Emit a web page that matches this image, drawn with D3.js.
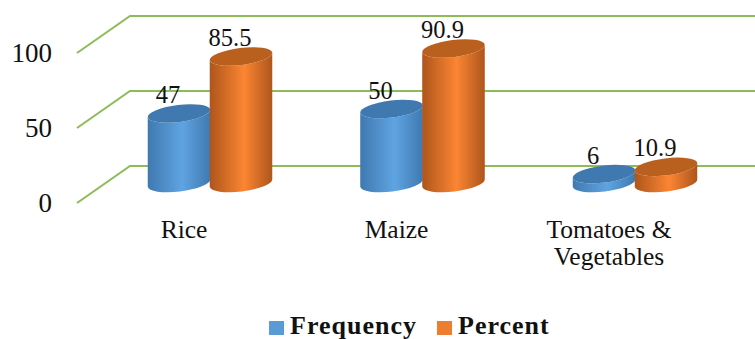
<!DOCTYPE html>
<html>
<head>
<meta charset="utf-8">
<script src="https://cdn.jsdelivr.net/npm/d3@7"></script>
<style>
  html, body { margin: 0; padding: 0; background: #fff; }
  svg { display: block; }
  text { font-family: "Liberation Serif", serif; fill: #111; }
</style>
</head>
<body>
<svg id="chart" viewBox="0 0 755 339" width="755" height="339"></svg>
<script>
const categories = ["Rice", "Maize", "Tomatoes & Vegetables"];
const category_lines = [["Rice"], ["Maize"], ["Tomatoes &", "Vegetables"]];
const series_names = ["Frequency", "Percent"];
const frequency = [47, 50, 6];
const percent = [85.5, 90.9, 10.9];
const percent_labels = ["85.5", "90.9", "10.9"];
const tick_values = [0, 50, 100];

const svg = d3.select("#chart");
const width = 755;

// front edge of the floor and the back wall share the same value range
const y_front = d3.scaleLinear().domain([0, 100]).range([203, 53]);
const y_back = d3.scaleLinear().domain([0, 100]).range([166, 16]);
const y_bar = d3.scaleLinear().domain([0, 100]).range([183, 35]);

const x_group = d3.scalePoint().domain(categories).range([210, 635]);
const x_series = d3.scaleBand().domain(series_names).range([-62, 62]);

const colors = {
  Frequency: { edge: "#3f79b0", mid: "#5fa4e2", top: "#3f79af", key: "#5b9bd5" },
  Percent: { edge: "#ad561c", mid: "#fc8532", top: "#b9601f", key: "#ed7d31" }
};

const defs = svg.append("defs");
series_names.forEach(name => {
  const grad = defs.append("linearGradient").attr("id", "grad" + name);
  grad.append("stop").attr("offset", "0%").attr("stop-color", colors[name].edge);
  grad.append("stop").attr("offset", "55%").attr("stop-color", colors[name].mid);
  grad.append("stop").attr("offset", "100%").attr("stop-color", colors[name].edge);
});

// gridlines: short diagonal on the side wall, then along the back wall
svg.append("g")
  .selectAll("path")
  .data(tick_values)
  .enter()
  .append("path")
  .attr("d", d => `M77,${y_front(d)}L130,${y_back(d)}L${width},${y_back(d)}`)
  .attr("fill", "none")
  .attr("stroke", "#8cbb58")
  .attr("stroke-width", 2);

const y_axis = svg.append("g")
  .attr("transform", "translate(52,0)")
  .call(d3.axisLeft(y_front).tickValues(tick_values).tickSize(0).tickPadding(0));
y_axis.select(".domain").remove();
y_axis.selectAll("text")
  .attr("font-family", "Liberation Serif")
  .attr("font-size", 27)
  .style("fill", "#111");

const rx = 31.5, ry = 8.5, tilt = 7 * Math.PI / 180;
const dx = rx * Math.cos(tilt), dy = rx * Math.sin(tilt);

function cylinder(cx, top, base) {
  return `M${cx - dx},${top + dy}L${cx - dx},${base + dy}` +
    `A${rx},${ry} -7 0 0 ${cx + dx},${base - dy}` +
    `L${cx + dx},${top - dy}` +
    `A${rx},${ry} -7 0 1 ${cx - dx},${top + dy}Z`;
}

const bars = categories.flatMap((c, i) => [
  { category: c, name: "Frequency", value: frequency[i], label: String(frequency[i]) },
  { category: c, name: "Percent", value: percent[i], label: percent_labels[i] }
]);
const bar_x = d => x_group(d.category) + x_series(d.name) + x_series.bandwidth() / 2;

const bar_elements = svg.append("g")
  .selectAll("g")
  .data(bars)
  .enter()
  .append("g");

bar_elements.append("path")
  .attr("d", d => cylinder(bar_x(d), y_bar(d.value), y_bar(0)))
  .attr("fill", d => `url(#grad${d.name})`);

bar_elements.append("ellipse")
  .attr("cx", d => bar_x(d))
  .attr("cy", d => y_bar(d.value))
  .attr("rx", rx)
  .attr("ry", ry)
  .attr("transform", d => `rotate(-7 ${bar_x(d)} ${y_bar(d.value)})`)
  .attr("fill", d => colors[d.name].top);

svg.append("g")
  .selectAll("text")
  .data(bars)
  .enter()
  .append("text")
  .attr("x", d => bar_x(d) - 11)
  .attr("y", d => y_bar(d.value) - 10.5)
  .attr("text-anchor", "middle")
  .attr("font-size", 24.5)
  .text(d => d.label);

const category_elements = svg.append("g")
  .selectAll("text")
  .data(categories)
  .enter()
  .append("text")
  .attr("text-anchor", "middle")
  .attr("font-size", 25.5);

category_elements.selectAll("tspan")
  .data((d, i) => category_lines[i].map(line => ({ line, x: x_group(d) - 26 })))
  .enter()
  .append("tspan")
  .attr("x", d => d.x)
  .attr("y", (d, i) => 238 + i * 27)
  .text(d => d.line);

const legend_x = d3.scaleOrdinal().domain(series_names).range([269, 437]);

const legend = svg.append("g")
  .selectAll("g")
  .data(series_names)
  .enter()
  .append("g")
  .attr("transform", d => `translate(${legend_x(d)},0)`);

legend.append("rect")
  .attr("y", 321)
  .attr("width", 15)
  .attr("height", 14)
  .attr("fill", d => colors[d].key);

legend.append("text")
  .attr("x", 21)
  .attr("y", 333.5)
  .attr("font-size", 26)
  .attr("font-weight", "bold")
  .attr("letter-spacing", 1)
  .text(d => d);
</script>
</body>
</html>
